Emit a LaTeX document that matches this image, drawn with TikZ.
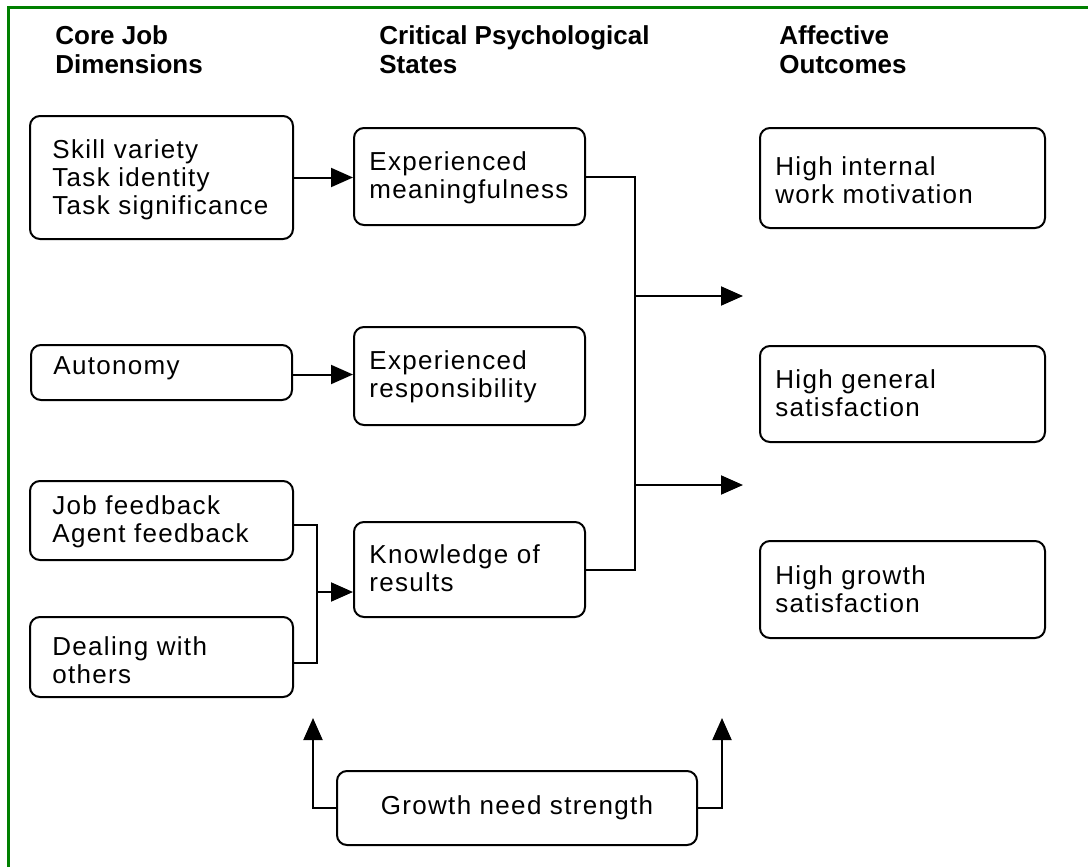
\documentclass[tikz,border=0pt]{standalone}
\usepackage{fontspec}
\setmainfont{Liberation Sans}
\newfontfamily\boxfont{Liberation Sans}[LetterSpace=5]
\usetikzlibrary{arrows.meta}
\definecolor{framegreen}{RGB}{0,128,0}
\begin{document}
\begin{tikzpicture}[x=0.5pt,y=-0.5pt,
  box/.style={draw, line width=1pt, rounded corners=5pt, inner sep=0pt},
  txt/.style={font=\boxfont\fontsize{13}{14}\selectfont, align=left, inner sep=0pt, anchor=west},
  head/.style={font=\bfseries\fontsize{13}{14.5}\selectfont, align=left, inner sep=0pt, anchor=north west},
  conn/.style={line width=1pt},
  arr/.style={conn, -{Triangle[length=11pt,width=9.5pt]}}]
\useasboundingbox (0,0) rectangle (1088,867);
\fill[white] (0,0) rectangle (1088,867);
% frame (top and left edges)
\draw[framegreen, line width=1.5pt] (8,867) -- (8,7) -- (1088,7);

% headings
\node[head] (h1) at (55,25) {Core Job\\Dimensions};
\node[head] (h2) at (379,25) {Critical Psychological\\States};
\node[head] (h3) at (779,25) {Affective\\Outcomes};

% left column
\node[box, minimum width=131.5pt, minimum height=61.5pt] (A) at (161.5,177.5) {};
\node[txt] (At) at (52,180) {Skill variety\\Task identity\\Task significance};
\node[box, minimum width=130.5pt, minimum height=27.5pt] (Aut) at (161.5,372.5) {};
\node[txt] (Autt) at (53,368) {Autonomy};
\node[box, minimum width=131.5pt, minimum height=39.5pt] (JF) at (161.5,520.5) {};
\node[txt] (JFt) at (52,522) {Job feedback\\Agent feedback};
\node[box, minimum width=131.5pt, minimum height=40pt] (DW) at (161.5,657) {};
\node[txt] (DWt) at (52,660) {Dealing with\\others};

% middle column
\node[box, minimum width=115.5pt, minimum height=48.5pt] (B1) at (469.5,176.5) {};
\node[txt] (B1t) at (369,178) {Experienced\\meaningfulness};
\node[box, minimum width=115.5pt, minimum height=49pt] (B2) at (469.5,376) {};
\node[txt] (B2t) at (369,377) {Experienced\\responsibility};
\node[box, minimum width=115.5pt, minimum height=47.5pt] (B3) at (469.5,569.5) {};
\node[txt] (B3t) at (369,568) {Knowledge of\\results};

% right column
\node[box, minimum width=142.5pt, minimum height=50pt] (C1) at (902.5,178) {};
\node[txt] (C1t) at (775,180) {High internal\\work motivation};
\node[box, minimum width=142.5pt, minimum height=48pt] (C2) at (902.5,394) {};
\node[txt] (C2t) at (775,393) {High general\\satisfaction};
\node[box, minimum width=142.5pt, minimum height=48.5pt] (C3) at (902.5,589.5) {};
\node[txt] (C3t) at (775,589) {High growth\\satisfaction};

% growth need strength
\node[box, minimum width=180pt, minimum height=37pt, font=\boxfont\fontsize{13}{14}\selectfont] (G) at (517,808) {Growth need strength};

% connectors
\draw[arr] (A.east) -- (A.east -| B1.west);
\draw[arr] ([yshift=-1pt]Aut.east) -- ([yshift=-1pt]Aut.east -| B2.west);

\coordinate (jL) at (317,592);
\draw[conn] ([yshift=-2.25pt]JF.east) -| (jL) |- ([yshift=-3pt]DW.east);
\draw[arr] (jL) -- (jL -| B3.west);

\coordinate (jR) at (635,296);
\coordinate (jR2) at (635,485);
\coordinate (o1) at (743,296);
\coordinate (o2) at (743,485);
\draw[conn] (B1.east) -| (jR) |- (B3.east);
\draw[arr] (jR) -- (o1);
\draw[arr] (jR2) -- (o2);

\coordinate (gL) at (313,718);
\coordinate (gR) at (722,718);
\draw[arr] (G.west) -| (gL);
\draw[arr] (G.east) -| (gR);
\end{tikzpicture}
\end{document}
